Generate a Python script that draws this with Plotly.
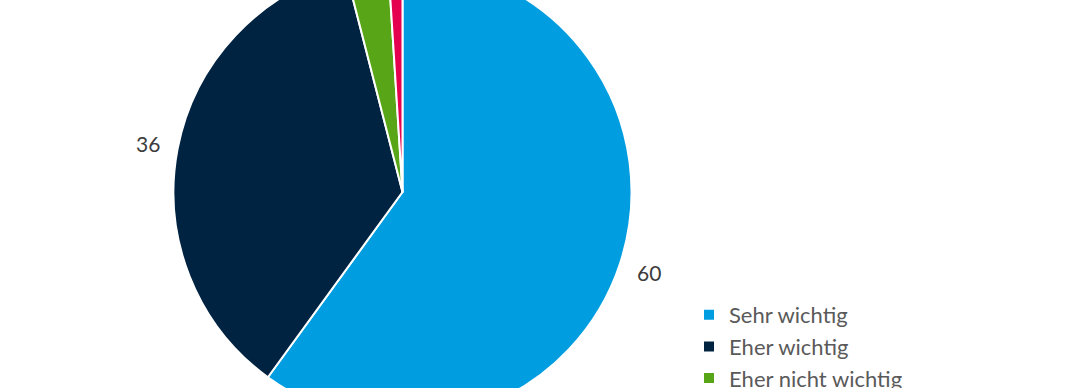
import math
import plotly.graph_objects as go

categories = ["Sehr wichtig", "Eher wichtig", "Eher nicht wichtig", "Gar nicht wichtig"]
values = [60, 36, 3, 1]
colors = ["#009EE0", "#002341", "#58A617", "#E4004F"]

W, H = 1080, 470
SHIFT = 37  # px the figure is moved up so the pie is cropped at the top
cx, cy, r = 402.5, 192 + SHIFT, 229
label_dist = r + 30
FONT = "Lato, sans-serif"

fig = go.Figure(go.Pie(
    labels=categories,
    values=values,
    sort=False,
    direction="clockwise",
    rotation=0,
    marker=dict(colors=colors, line=dict(color="white", width=2)),
    textinfo="none",
    hoverinfo="label+value",
    domain=dict(x=[(cx - r) / W, (cx + r) / W],
                y=[(H - cy - r) / H, min(1.0, (H - cy + r) / H)]),
))

# value labels placed outside each slice along its mid-angle
total = sum(values)
cum = 0
for v in values:
    mid = (cum + v / 2) / total * 2 * math.pi
    cum += v
    px = cx + label_dist * math.sin(mid)
    py = cy - label_dist * math.cos(mid)
    fig.add_annotation(
        x=px / W, y=1 - py / H, xref="paper", yref="paper",
        text=str(v), showarrow=False, xanchor="center", yanchor="middle",
        font=dict(family=FONT, size=21, color="#3c3c3c"),
    )

fig.update_layout(
    width=W, height=H,
    margin=dict(l=0, r=0, t=0, b=0),
    paper_bgcolor="white",
    plot_bgcolor="white",
    showlegend=True,
    legend=dict(
        x=689 / W, xanchor="left",
        y=1 - 331 / H, yanchor="top",
        font=dict(family=FONT, size=22, color="#5a5a5a"),
        traceorder="normal",
    ),
)

post = (
    "var gd=document.getElementById('{plot_id}');"
    "gd.style.marginTop='-%dpx';"
    "document.body.style.margin='0';"
    "document.body.style.overflow='hidden';"
    "document.documentElement.style.overflow='hidden';" % SHIFT
)
fig.write_html("out.html", post_script=post)
